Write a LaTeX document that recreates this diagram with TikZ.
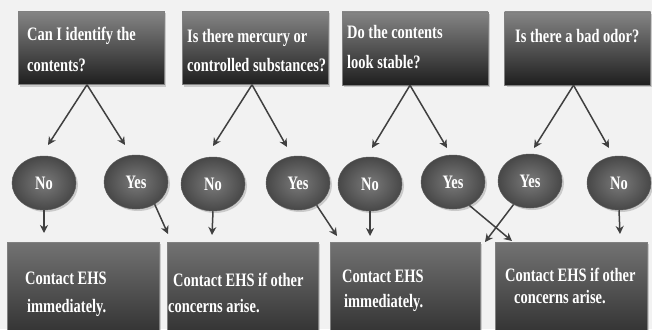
\documentclass[tikz,border=0pt]{standalone}
\usepackage{fontspec}
\setmainfont[FakeStretch=0.76]{Liberation Serif}
\usetikzlibrary{arrows.meta,shadows,shapes.geometric}
\begin{document}
\begin{tikzpicture}[x=1pt,y=-1pt,
  qbox/.style={rectangle, draw=black!50, line width=0.5pt, top color=black!48, bottom color=black!88,
    minimum width=146pt, minimum height=73pt, inner sep=0pt,
    drop shadow={opacity=0.35, shadow xshift=2pt, shadow yshift=-2pt}},
  abox/.style={rectangle, draw=black!50, line width=0.5pt, top color=black!55, bottom color=black!80,
    minimum height=91pt, inner sep=0pt,
    drop shadow={opacity=0.35, shadow xshift=2pt, shadow yshift=-2pt}},
  oval/.style={ellipse, draw=black!65, line width=0.5pt, inner color=black!52, outer color=black!72,
    minimum width=64pt, minimum height=54pt, inner sep=0pt, text=white,
    font=\bfseries\fontsize{19}{22}\selectfont,
    drop shadow={opacity=0.35, shadow xshift=2pt, shadow yshift=-2pt}},
  lbl/.style={anchor=base west, inner sep=0pt, text=white, font=\bfseries\fontsize{19}{22}\selectfont},
  arr/.style={draw=black!75, line width=1.5pt, -{Stealth[length=8pt,width=8pt,inset=2.5pt]}}
]
\clip (0,0) rectangle (652,329);
\fill[black!5] (0,0) rectangle (652,329);

% question boxes
\node[qbox] (q1) at (91,48) {};
\node[qbox] (q2) at (255,48) {};
\node[qbox] (q3) at (415,48.5) {};
\node[qbox] (q4) at (577.5,48.5) {};

\node[lbl] (q1a) at (27,41) {Can I identify the};
\node[lbl] (q1b) at (27,71) {contents?};
\node[lbl] (q2a) at (187,42) {Is there mercury or};
\node[lbl] (q2b) at (187,71) {controlled substances?};
\node[lbl] (q3a) at (347,39) {Do the contents};
\node[lbl] (q3b) at (347,68) {look stable?};
\node[lbl] (q4a) at (515,42) {Is there a bad odor?};

% answers
\node[oval] (n1) at (44,183) {No};
\node[oval] (y1) at (136,182) {Yes};
\node[oval] (n2) at (213,184) {No};
\node[oval] (y2) at (298,183) {Yes};
\node[oval] (n3) at (370,184) {No};
\node[oval] (y3) at (453,182) {Yes};
\node[oval] (y4) at (530,181) {Yes};
\node[oval] (n4) at (619,183) {No};

% action boxes
\node[abox, minimum width=152pt] (a1) at (83,287.5) {};
\node[abox, minimum width=151pt] (a2) at (242.5,287.5) {};
\node[abox, minimum width=150pt] (a3) at (405,287.5) {};
\node[abox, minimum width=152pt] (a4) at (571,287.5) {};

\node[lbl] (a1a) at (25,284) {Contact EHS};
\node[lbl] (a1b) at (27,312) {immediately.};
\node[lbl] (a2a) at (173,286) {Contact EHS if other};
\node[lbl] (a2b) at (168,312) {concerns arise.};
\node[lbl] (a3a) at (342,282) {Contact EHS};
\node[lbl] (a3b) at (344,307) {immediately.};
\node[lbl] (a4a) at (505,281) {Contact EHS if other};
\node[lbl] (a4b) at (514,303) {concerns arise.};

% arrow end points
\coordinate (t1a) at (48,145);
\coordinate (t1b) at (125,145);
\coordinate (t2a) at (213,146);
\coordinate (t2b) at (287,147);
\coordinate (t3a) at (372,148);
\coordinate (t3b) at (447,148);
\coordinate (t4a) at (534,148);
\coordinate (t4b) at (609,148);

\draw[arr] ([xshift=-4pt]q1.south) -- (t1a);
\draw[arr] ([xshift=-4pt]q1.south) -- (t1b);
\draw[arr] ([xshift=-3pt]q2.south) -- (t2a);
\draw[arr] ([xshift=-3pt]q2.south) -- (t2b);
\draw[arr] ([xshift=-5pt]q3.south) -- (t3a);
\draw[arr] ([xshift=-5pt]q3.south) -- (t3b);
\draw[arr] ([xshift=-4pt]q4.south) -- (t4a);
\draw[arr] ([xshift=-4pt]q4.south) -- (t4b);

\coordinate (e1) at (44,233);
\coordinate (e2) at (168,234);
\coordinate (e3) at (212,235);
\coordinate (e4) at (337,236);
\coordinate (e5) at (370,236);
\coordinate (e6) at (512,241);
\coordinate (e7) at (485,242);
\coordinate (e8) at (620,234);

\draw[arr] (n1.south) -- (e1);
\draw[arr] (y1.-50) -- (e2);
\draw[arr] (n2.south) -- (e3);
\draw[arr] (y2.-50) -- (e4);
\draw[arr] (n3.south) -- (e5);
\draw[arr] (y3.-55) -- (e6);
\draw[arr] (y4.-125) -- (e7);
\draw[arr] (n4.south) -- (e8);
\end{tikzpicture}
\end{document}
